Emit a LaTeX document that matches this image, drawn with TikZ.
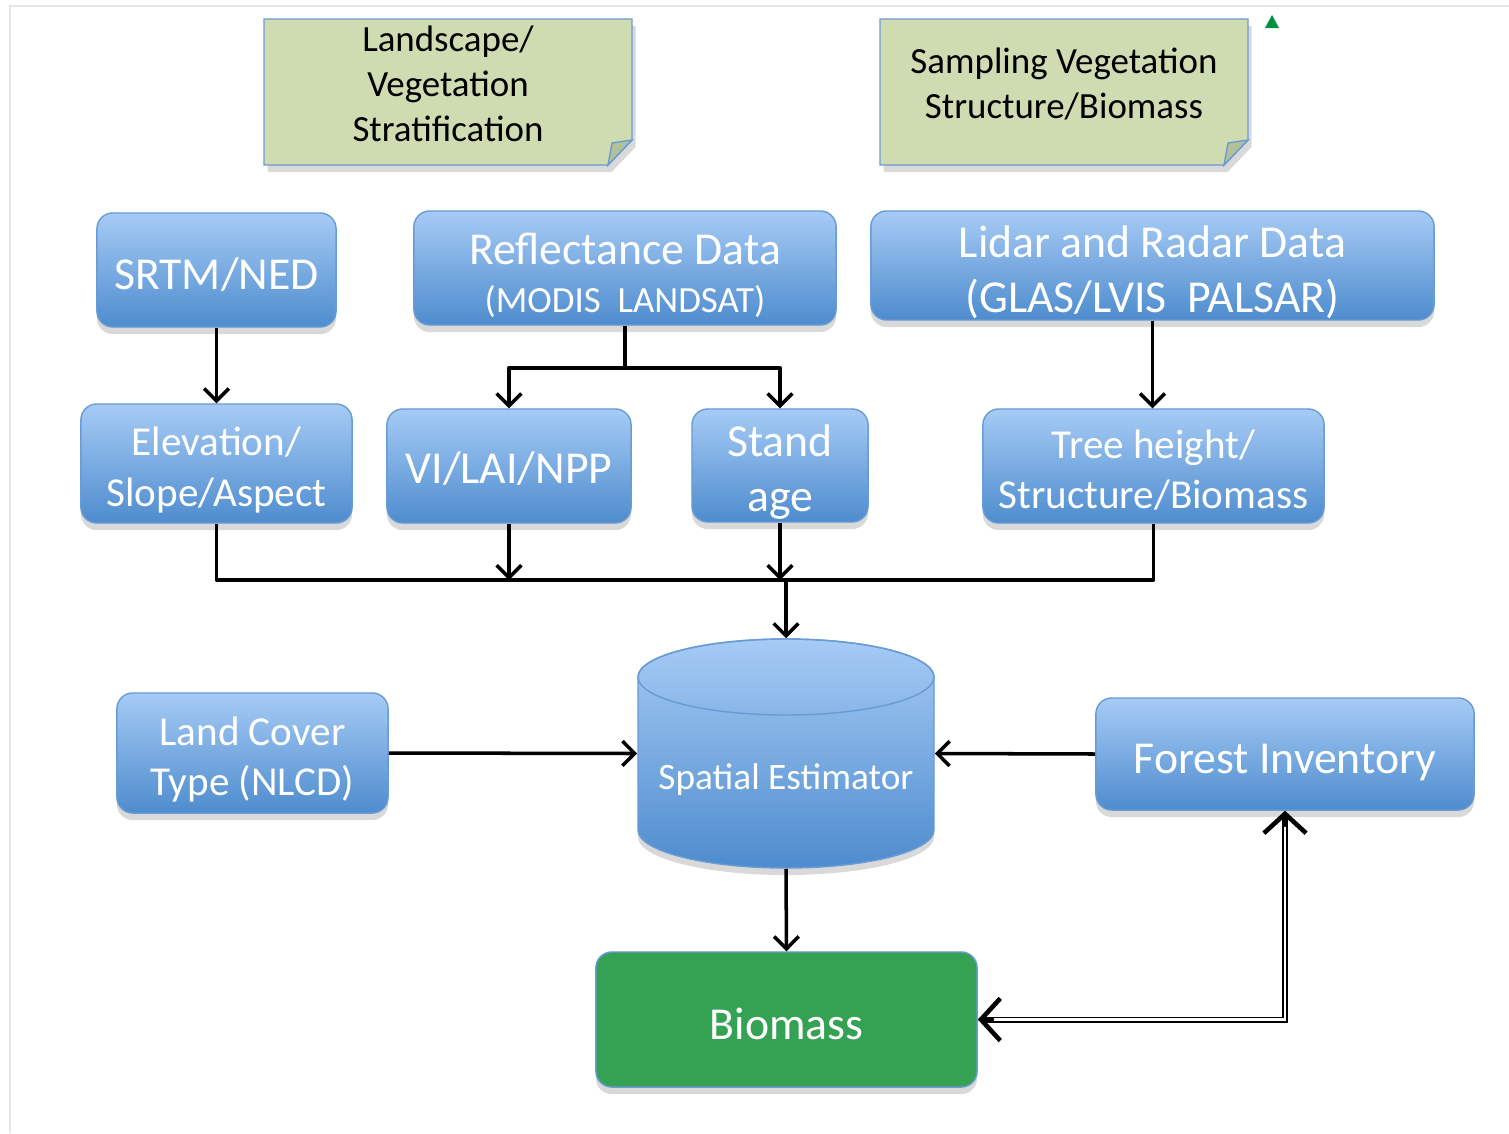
\documentclass[tikz,border=0pt]{standalone}
\usepackage{fontspec}
\setmainfont{Carlito}
\usetikzlibrary{calc}
\usetikzlibrary{arrows.meta}
\usetikzlibrary{shadows}

\definecolor{boxtop}{RGB}{166,203,245}
\definecolor{boxbot}{RGB}{78,140,206}
\definecolor{boxline}{RGB}{105,155,212}
\definecolor{notefill}{RGB}{207,220,178}
\definecolor{notefold}{RGB}{178,193,152}
\definecolor{biofill}{RGB}{53,161,83}
\definecolor{pagegray}{RGB}{230,230,230}
\definecolor{markgreen}{RGB}{0,146,63}

\tikzset{
  bluebox/.style={draw=boxline, rounded corners=4.5pt, top color=boxtop, bottom color=boxbot,
    inner sep=0pt, drop shadow={opacity=.3, shadow xshift=0pt, shadow yshift=-2pt}},
  greenbox/.style={bluebox, top color=biofill, bottom color=biofill},
  boxtext/.style={text=white, align=center, inner sep=0pt},
  bigtext/.style={boxtext, font=\fontsize{13}{15.6}\selectfont},
  midtext/.style={boxtext, font=\fontsize{11.7}{14.4}\selectfont},
  notetext/.style={font=\fontsize{10.5}{12.8}\selectfont, align=center},
  link/.style={line width=1pt, line join=round},
  arr/.style={link, -{Straight Barb[length=3.5pt,width=7pt]}},
  dbl/.style={double, line width=.55pt, double distance=.6pt},
  dbltip/.style={line width=1.3pt, line cap=round, -{Straight Barb[length=5.5pt,width=12pt]}},
}

\begin{document}
\begin{tikzpicture}[x=0.01cm,y=0.01cm]
\useasboundingbox (0,0) rectangle (1509,-1133);
\draw[pagegray] (10,-1133) -- (10,-6) -- (1509,-6);
\fill[markgreen] (1265,-28) -- (1279,-28) -- (1272,-15) -- cycle;

\foreach \xa/\xb in {264/632,880/1248} {
  \filldraw[fill=notefill, draw=boxline, drop shadow={opacity=.3, shadow xshift=1pt, shadow yshift=-2pt}]
    (\xa,-19) -- (\xb,-19) -- (\xb,-140) -- ($(\xb,-165)+(-24,0)$) -- (\xa,-165) -- cycle;
  \filldraw[fill=notefold, draw=boxline] ($(\xb,-165)+(-24,0)$) -- ($(\xb,-143)+(-20,0)$) -- (\xb,-140) -- cycle;
}
\node[notetext] (strat) at (448,-84) {Landscape/\\Vegetation\\Stratification};
\node[notetext] (samp) at (1064,-84) {Sampling Vegetation\\Structure/Biomass};

\node[bluebox, minimum width=2.39cm, minimum height=1.14cm] (srtm) at (216.5,-270) {};
\node[bluebox, minimum width=4.22cm, minimum height=1.14cm] (refl) at (625,-268) {};
\node[bluebox, minimum width=5.63cm, minimum height=1.09cm] (lidar) at (1152.5,-265.5) {};
\node[bigtext] (srtmtxt) at (216.5,-275) {SRTM/NED};
\node[bigtext] (refltxt) at (625,-275.5) {Reflectance Data\\[-2pt]{\fontsize{10.5}{12}\selectfont (MODIS\ \ LANDSAT)}};
\node[bigtext] (lidartxt) at (1152.5,-272.5) {Lidar and Radar Data\\(GLAS/LVIS\ \ PALSAR)};

\node[bluebox, minimum width=2.71cm, minimum height=1.19cm] (elev) at (216.5,-463.5) {};
\node[bluebox, minimum width=2.44cm, minimum height=1.14cm] (vi) at (509,-466) {};
\node[bluebox, minimum width=1.76cm, minimum height=1.13cm] (stand) at (780,-465.5) {};
\node[bluebox, minimum width=3.41cm, minimum height=1.14cm] (tree) at (1153.5,-466) {};
\node[midtext] (elevtxt) at (216.5,-470) {Elevation/\\Slope/Aspect};
\node[bigtext] (vitxt) at (509,-469) {VI/LAI/NPP};
\node[bigtext] (standtxt) at (780,-472) {Stand\\age};
\node[midtext] (treetxt) at (1153.5,-470) {Tree height/\\Structure/Biomass};

\node[bluebox, minimum width=2.71cm, minimum height=1.20cm] (land) at (252.5,-753) {};
\node[bluebox, minimum width=3.78cm, minimum height=1.12cm] (forest) at (1285,-754) {};
\node[midtext] (landtxt) at (252.5,-759.5) {Land Cover\\Type (NLCD)};
\node[bigtext] (foresttxt) at (1285,-763) {Forest Inventory};

\shade[top color=boxtop, bottom color=boxbot, draw=boxline,
  drop shadow={opacity=.3, shadow xshift=0pt, shadow yshift=-2pt}]
  (638,-677) -- (638,-830) arc[start angle=180, end angle=360, x radius=148, y radius=38]
  -- (934,-677) arc[start angle=0, end angle=180, x radius=148, y radius=38] -- cycle;
\draw[boxline] (786,-677) ellipse[x radius=148, y radius=38];
\node[minimum width=2.96cm, minimum height=2.29cm, inner sep=0pt] (est) at (786,-753.5) {};
\node[boxtext, font=\fontsize{10.6}{12}\selectfont] (esttxt) at (786,-780) {Spatial Estimator};

\node[greenbox, minimum width=3.81cm, minimum height=1.35cm] (bio) at (786.5,-1019.5) {};
\node[bigtext] (biotxt) at (786.5,-1023.5) {Biomass};

\draw[arr] (srtm) -- (elev);
\coordinate (rj) at ($(refl.south)+(0,-42)$);
\draw[link] (refl.south) -- (rj);
\draw[arr] (rj) -| (vi.north);
\draw[arr] (rj) -| (stand.north);
\draw[arr] (lidar.south) -- (lidar.south |- tree.north);

\coordinate (bus) at (0,-580);
\draw[link] (elev.south) |- (bus -| tree.south) -- (tree.south);
\draw[arr] (vi.south) -- (vi.south |- bus);
\draw[arr] (stand.south) -- (stand.south |- bus);
\draw[arr] (est.north |- bus) -- (est.north);

\draw[arr] (land.east) -- (est.west);
\draw[arr] (forest.west) -- (est.east);
\draw[arr] (est.south) -- (bio.north);
\draw[dbl] ($(bio.east)+(6,0)$) -| ($(forest.south)+(0,-6)$);
\draw[dbltip] ($(bio.east)+(14,0)$) -- (bio.east);
\draw[dbltip] ($(forest.south)+(0,-14)$) -- (forest.south);
\end{tikzpicture}
\end{document}
